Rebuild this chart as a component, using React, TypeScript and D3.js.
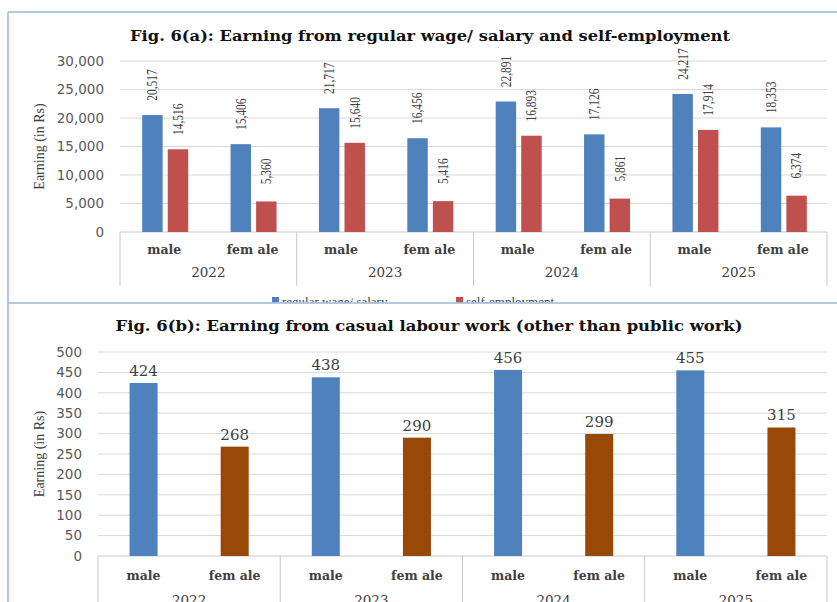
import React from "react";
import * as d3 from "d3";

// ---------- data ----------
const years = ["2022", "2023", "2024", "2025"];
const genders = ["male", "fem ale"];
const seriesA = ["regular wage/ salary", "self-employment"];
// per year: [male, female]
const wageSalary = [
  [20517, 15406],
  [21717, 16456],
  [22891, 17126],
  [24217, 18353],
];
const selfEmployment = [
  [14516, 5360],
  [15640, 5416],
  [16893, 5861],
  [17914, 6374],
];
const casualLabour = [
  [424, 268],
  [438, 290],
  [456, 299],
  [455, 315],
];
const ticksA = [0, 5000, 10000, 15000, 20000, 25000, 30000];
const ticksB = [0, 50, 100, 150, 200, 250, 300, 350, 400, 450, 500];
const titleA = "Fig. 6(a): Earning from regular wage/ salary and self-employment";
const titleB = "Fig. 6(b): Earning from casual labour work (other than public work)";
const yLabel = "Earning (in Rs)";

// ---------- styles ----------
const BLUE = "#4F81BD";
const RED = "#C0504D";
const BROWN = "#984807";
const GRID = "#d9d9d9";
const AXIS = "#c8c8c8";
const TEXT = "#404040";
const TICK = "#595959";
const BORDER = "#9bb7d9";
const SERIF = "'DejaVu Serif', serif";
const TIMES = "'Liberation Serif', 'Times New Roman', serif";
const SANS = "'DejaVu Sans', Verdana, sans-serif";

const fmt = d3.format(",");

function ChartA() {
  const x0 = 120, x1 = 827, yBottom = 232, yTop = 61;
  const xYear = d3.scaleBand<string>().domain(years).range([x0, x1]);
  const xGender = d3.scaleBand<string>().domain(genders).range([0, xYear.bandwidth()]);
  const xSeries = d3.scaleBand<string>().domain(seriesA).range([-22, 24]).paddingInner(0.2);
  const y = d3.scaleLinear().domain([0, 30000]).range([yBottom, yTop]);
  const seriesData = [wageSalary, selfEmployment];
  const colors = [BLUE, RED];

  return (
    <g>
      <text x={430} y={41} textAnchor="middle" fontFamily={SERIF} fontWeight="bold" fontSize={15}
        textLength={600} lengthAdjust="spacingAndGlyphs" fill="#111">{titleA}</text>
      {ticksA.map((t) => (
        <g key={t}>
          {t !== 0 && <line x1={x0} x2={x1} y1={y(t)} y2={y(t)} stroke={GRID} strokeWidth={1} />}
          <text x={104} y={y(t)} dy="0.35em" textAnchor="end" fontFamily={SANS} fontSize={13.5} fill={TICK}>
            {fmt(t)}
          </text>
        </g>
      ))}
      <text transform={`translate(44,${(yTop + yBottom) / 2 + 0}) rotate(-90)`} textAnchor="middle"
        fontFamily={TIMES} fontSize={14} fill={TEXT}>{yLabel}</text>
      <line x1={x0} x2={x1} y1={yBottom} y2={yBottom} stroke={AXIS} />
      {[...years.map((yr) => xYear(yr)!), x1].map((sx, i) => (
        <line key={i} x1={sx} x2={sx} y1={yBottom} y2={286} stroke={AXIS} />
      ))}
      {years.map((yr, yi) => (
        <g key={yr}>
          {genders.map((g, gi) => {
            const cx = xYear(yr)! + xGender(g)! + xGender.bandwidth() / 2;
            return (
              <g key={g}>
                {seriesA.map((s, si) => {
                  const v = seriesData[si][yi][gi];
                  const bx = cx + xSeries(s)!;
                  const bw = xSeries.bandwidth();
                  const top = y(v);
                  const lx = bx + bw / 2;
                  const ly = top - 30;
                  return (
                    <g key={s}>
                      <rect x={bx} y={top} width={bw} height={yBottom - top} fill={colors[si]} />
                      <text transform={`translate(${lx},${ly}) rotate(-90) scale(0.82,1)`} textAnchor="middle"
                        dy="0.35em" fontFamily={TIMES} fontSize={14} fill={TEXT}>{fmt(v)}</text>
                    </g>
                  );
                })}
                <text x={cx} y={254} textAnchor="middle" fontFamily={SERIF} fontWeight="bold" fontSize={12.5}
                  fill={TEXT}>{g}</text>
              </g>
            );
          })}
          <text x={xYear(yr)! + xYear.bandwidth() / 2} y={277} textAnchor="middle" fontFamily={SERIF}
            fontSize={13.5} fill={TEXT}>{yr}</text>
        </g>
      ))}
      {/* legend (cut by the panel below) */}
      <g clipPath="url(#clipA)">
        {seriesA.map((s, i) => {
          const lx = i === 0 ? 272 : 456;
          return (
            <g key={s}>
              <rect x={lx} y={297} width={7} height={7} fill={colors[i]} />
              <text x={lx + 10} y={306} fontFamily={TIMES} fontSize={13} fill={TEXT}>{s}</text>
            </g>
          );
        })}
      </g>
    </g>
  );
}

function ChartB() {
  const x0 = 98, x1 = 827, yBottom = 556, yTop = 352;
  const xYear = d3.scaleBand<string>().domain(years).range([x0, x1]);
  const xGender = d3.scaleBand<string>().domain(genders).range([0, xYear.bandwidth()]);
  const y = d3.scaleLinear().domain([0, 500]).range([yBottom, yTop]);
  const bw = 28;
  const colors = [BLUE, BROWN];

  return (
    <g>
      <text x={429} y={331} textAnchor="middle" fontFamily={SERIF} fontWeight="bold" fontSize={15}
        textLength={627} lengthAdjust="spacingAndGlyphs" fill="#111">{titleB}</text>
      {ticksB.map((t) => (
        <g key={t}>
          {t !== 0 && <line x1={x0} x2={x1} y1={y(t)} y2={y(t)} stroke={GRID} strokeWidth={1} />}
          <text x={82} y={y(t)} dy="0.35em" textAnchor="end" fontFamily={SANS} fontSize={13.5} fill={TICK}>
            {fmt(t)}
          </text>
        </g>
      ))}
      <text transform={`translate(44,${(yTop + yBottom) / 2}) rotate(-90)`} textAnchor="middle"
        fontFamily={TIMES} fontSize={14} fill={TEXT}>{yLabel}</text>
      <line x1={x0} x2={x1} y1={yBottom} y2={yBottom} stroke={AXIS} />
      {[...years.map((yr) => xYear(yr)!), x1].map((sx, i) => (
        <line key={i} x1={sx} x2={sx} y1={yBottom} y2={602} stroke={AXIS} />
      ))}
      {years.map((yr, yi) => (
        <g key={yr}>
          {genders.map((g, gi) => {
            const cx = xYear(yr)! + xGender(g)! + xGender.bandwidth() / 2;
            const v = casualLabour[yi][gi];
            const top = y(v);
            return (
              <g key={g}>
                <rect x={cx - bw / 2} y={top} width={bw} height={yBottom - top} fill={colors[gi]} />
                <text x={cx} y={top - 7} textAnchor="middle" fontFamily={SERIF} fontSize={15} fill={TEXT}>{v}</text>
                <text x={cx} y={580} textAnchor="middle" fontFamily={SERIF} fontWeight="bold" fontSize={12.5}
                  fill={TEXT}>{g}</text>
              </g>
            );
          })}
          <text x={xYear(yr)! + xYear.bandwidth() / 2} y={605} textAnchor="middle" fontFamily={SERIF}
            fontSize={13.5} fill={TEXT}>{yr}</text>
        </g>
      ))}
    </g>
  );
}

export default function App() {
  return (
    <div style={{ position: "fixed", left: 0, top: 0, margin: 0 }}>
      <svg width={837} height={602} style={{ display: "block", background: "#fff" }}>
        <defs>
          <clipPath id="clipA">
            <rect x={0} y={0} width={837} height={302.5} />
          </clipPath>
        </defs>
        <rect x={0} y={0} width={837} height={602} fill="#fff" />
        <ChartA />
        <rect x={8} y={303} width={829} height={299} fill="#fff" />
        <ChartB />
        {/* panel borders */}
        <line x1={8} x2={837} y1={12} y2={12} stroke={BORDER} strokeWidth={1.5} />
        <line x1={8} x2={8} y1={12} y2={602} stroke={BORDER} strokeWidth={1.5} />
        <line x1={8} x2={837} y1={303} y2={303} stroke={BORDER} strokeWidth={1.5} />
      </svg>
    </div>
  );
}
